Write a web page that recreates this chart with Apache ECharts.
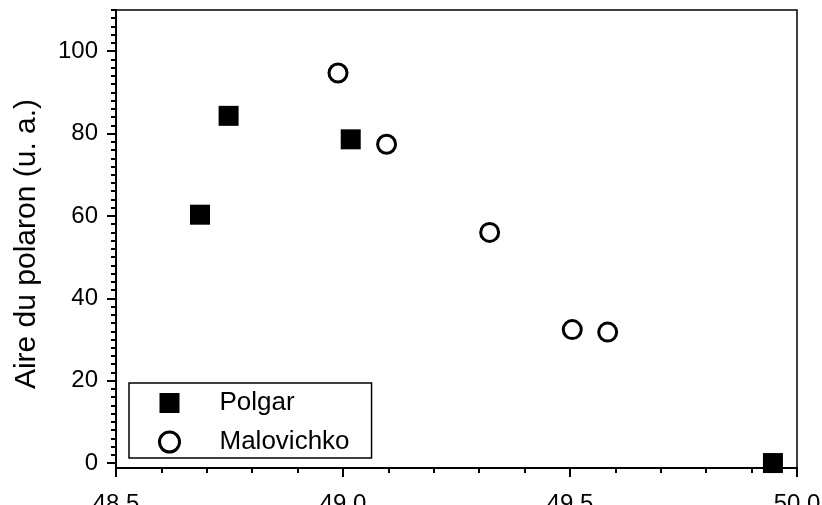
<!DOCTYPE html>
<html>
<head>
<meta charset="utf-8">
<script src="https://cdn.jsdelivr.net/npm/echarts@6/dist/echarts.min.js"></script>
<style>
html,body{margin:0;padding:0;background:#fff;}
#chart{width:822px;height:505px;}
</style>
</head>
<body>
<div id="chart"></div>
<script>
// Data
const polgarX = [48.685, 48.748, 49.017, 49.947];
const polgarY = [60.3, 84.3, 78.6, 0.0];
const maloX = [48.989, 49.096, 49.323, 49.505, 49.583];
const maloY = [94.7, 77.4, 56.0, 32.4, 31.8];
const yTickLabels = [0, 20, 40, 60, 80, 100];
const xTickLabels = ['48.5', '49.0', '49.5', '50.0'];
const yMinorStep = 2;

const FONT = 'Liberation Sans, Arial, Helvetica, sans-serif';
const yMinor = [];
for (let v = 0; v <= 110; v += yMinorStep) yMinor.push(v);

const chart = echarts.init(document.getElementById('chart'), null, {renderer: 'canvas'});
chart.setOption({
  animation: false,
  backgroundColor: '#fff',
  grid: {left: 116, right: 25, top: 10, bottom: 37, containLabel: false, outerBoundsMode: 'none',
    show: true, borderColor: '#000', borderWidth: 1.5, backgroundColor: 'transparent'},
  legend: {
    orient: 'vertical', left: 129, top: 383,
    padding: [7, 22, 3, 29],
    itemGap: 13,
    itemWidth: 20, itemHeight: 20,
    borderColor: '#000', borderWidth: 1.5,
    textStyle: {fontFamily: FONT, fontSize: 26, color: '#000', padding: [0, 0, 0, 35]},
    data: [
      {name: 'Polgar', icon: 'rect', itemStyle: {borderWidth: 0}},
      {name: 'Malovichko', icon: 'circle', itemStyle: {borderWidth: 3, borderColor: '#000', color: '#fff'}}
    ]
  },
  xAxis: {
    type: 'value', min: 48.5, max: 50.0, interval: 0.5,
    axisLine: {show: true, onZero: false, lineStyle: {color: '#000', width: 2}},
    axisTick: {show: true, inside: false, length: 9, lineStyle: {color: '#000', width: 2}},
    minorTick: {show: true, splitNumber: 5, length: 5, lineStyle: {color: '#000', width: 2}},
    splitLine: {show: false},
    axisLabel: {margin: 24, fontFamily: FONT, fontSize: 24, color: '#000',
      formatter: function (v) { const s = v.toFixed(1); return xTickLabels.indexOf(s) >= 0 ? s : ''; }}
  },
  yAxis: [{
    type: 'value', min: -1.2, max: 110, position: 'left',
    name: 'Aire du polaron (u. a.)', nameLocation: 'middle', nameGap: 74, nameRotate: 90,
    nameTextStyle: {fontFamily: FONT, fontSize: 30, color: '#000', padding: [0, 10, 0, 0]},
    axisLine: {show: true, onZero: false, lineStyle: {color: '#000', width: 2}},
    axisTick: {show: true, inside: false, length: 9, customValues: yTickLabels, lineStyle: {color: '#000', width: 2}},
    splitLine: {show: false},
    axisLabel: {margin: 18, fontFamily: FONT, fontSize: 24, color: '#000', customValues: yTickLabels}
  }, {
    type: 'value', min: -1.2, max: 110, position: 'left',
    axisLine: {show: false},
    axisTick: {show: true, inside: false, length: 5, customValues: yMinor, lineStyle: {color: '#000', width: 2}},
    splitLine: {show: false},
    axisLabel: {show: false}
  }],
  series: [{
    name: 'Polgar', type: 'scatter', symbol: 'rect', symbolSize: 20,
    itemStyle: {color: '#000', opacity: 1},
    data: polgarX.map((x, i) => [x, polgarY[i]])
  }, {
    name: 'Malovichko', type: 'scatter', symbol: 'circle', symbolSize: 18,
    itemStyle: {color: '#fff', borderColor: '#000', borderWidth: 3, opacity: 1},
    data: maloX.map((x, i) => [x, maloY[i]])
  }]
});
</script>
</body>
</html>
